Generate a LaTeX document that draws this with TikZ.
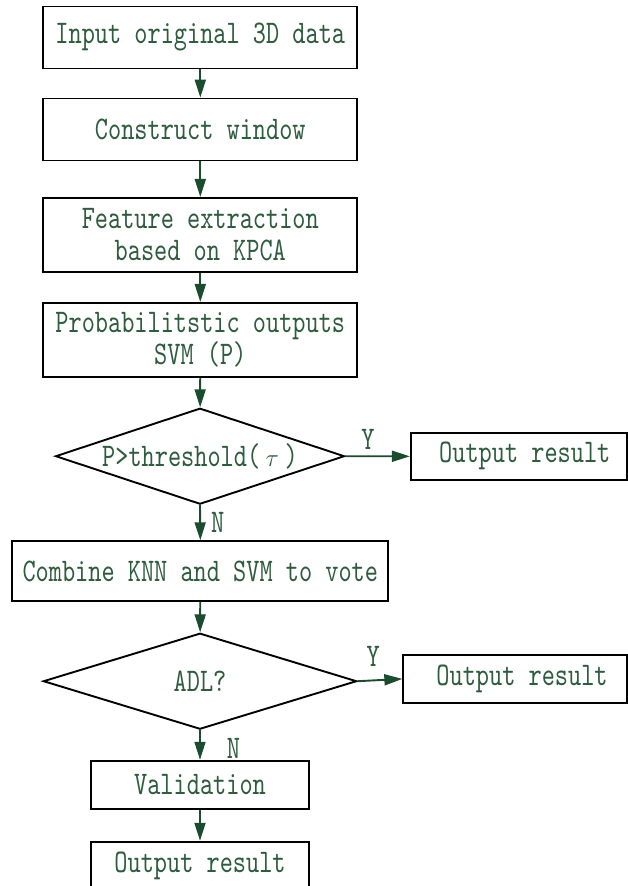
\documentclass[tikz,border=0pt]{standalone}
\usepackage{fontspec}
\usepackage{tikz}
\usetikzlibrary{shapes.geometric}
\usetikzlibrary{arrows.meta}

\newfontfamily\flowfont[FakeStretch=0.76]{lmmono10-regular.otf}
\definecolor{FlowText}{RGB}{46,92,62}
\definecolor{FlowArrow}{RGB}{26,76,46}

\begin{document}
\begin{tikzpicture}[x=1pt, y=-1pt,
    box/.style={draw=black, line width=1.9pt, inner sep=0pt, align=center, text=FlowText,
        font=\flowfont\fontsize{33}{32}\selectfont},
    decision/.style={box, shape=diamond, aspect=3},
    flow/.style={draw=FlowArrow, line width=1.9pt, -{Triangle[length=18pt,width=11pt]}},
    answer/.style={inner sep=0pt, text=FlowText, font=\flowfont\fontsize{33}{32}\selectfont}]
\useasboundingbox (0,0) rectangle (627,886);

\node[box, minimum width=314pt, minimum height=62pt] (input) at (200.3,37.5) {Input original 3D data};
\node[box, minimum width=314pt, minimum height=62pt] (window) at (200.3,129.5) {Construct window};
\node[box, minimum width=314pt, minimum height=74pt] (kpca) at (200.3,234.9) {Feature extraction\\based on KPCA};
\node[box, minimum width=314pt, minimum height=74pt] (svm) at (200.3,339.9) {Probabilitstic outputs\\SVM (P)};
\node[decision, minimum width=289pt, minimum height=96pt] (thresh) at (200,456.2) {P>threshold(\,$\tau$\,)};
\node[box, minimum width=216pt, minimum height=47.5pt] (result1) at (518.8,456.3) {\hspace{12pt}Output result};
\node[box, minimum width=376pt, minimum height=59.5pt] (vote) at (200.3,571) {Combine KNN and SVM to vote};
\node[decision, minimum width=313.4pt, minimum height=96pt] (adl) at (200,681.2) {ADL?};
\node[box, minimum width=223.4pt, minimum height=47.7pt] (result2) at (515,678.9) {\hspace{14pt}Output result};
\node[box, minimum width=218.6pt, minimum height=48.6pt] (valid) at (200,785) {Validation};
\node[box, minimum width=218.6pt, minimum height=48.6pt] (result3) at (200,866) {Output result};

\draw[flow] (input) -- (window);
\draw[flow] (window) -- (kpca);
\draw[flow] (kpca) -- (svm);
\draw[flow] (svm) -- (thresh);
\draw[flow] (thresh.east) -- node[answer, pos=0.35, above=6pt] (yes1) {Y} (result1.west);
\draw[flow] (thresh.south) -- node[answer, right=10pt] (no1) {N} (vote.north);
\draw[flow] (vote) -- (adl);
\draw[flow] (adl.east) -- node[answer, pos=0.35, above=13pt] (yes2) {Y} (result2.west);
\draw[flow] (adl.south) -- node[answer, right=26pt, yshift=-3pt] (no2) {N} (valid.north);
\draw[flow] (valid) -- (result3);
\end{tikzpicture}
\end{document}
